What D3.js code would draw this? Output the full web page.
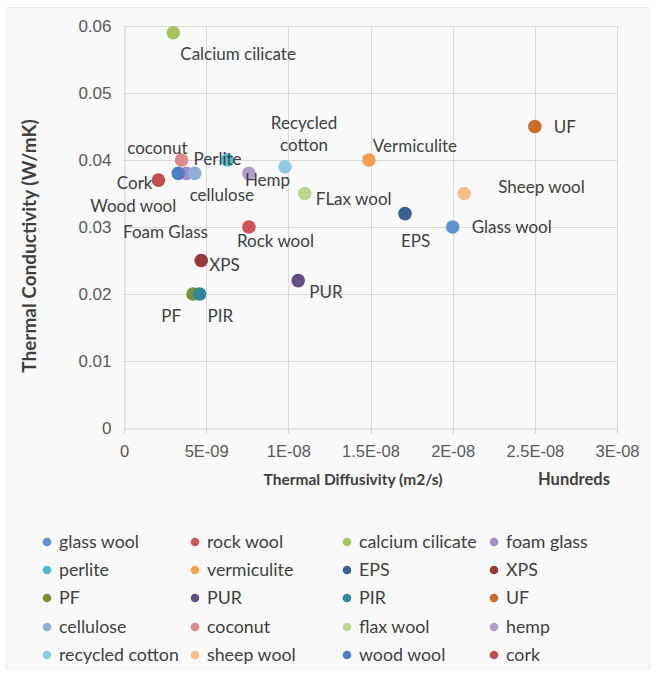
<!DOCTYPE html>
<html>
<head>
<meta charset="utf-8">
<script src="https://cdn.jsdelivr.net/npm/d3@7"></script>
<style>
  html, body { margin: 0; padding: 0; background: #ffffff; }
  svg { display: block; font-family: Lato, "Open Sans", "Liberation Sans", sans-serif; }
</style>
</head>
<body>
<svg id="chart" width="656" height="675"></svg>
<script>
// ---- data ----
const materials = ["glass wool","rock wool","calcium cilicate","foam glass","perlite","vermiculite","EPS","XPS","PF","PUR","PIR","UF","cellulose","coconut","flax wool","hemp","recycled cotton","sheep wool","wood wool","cork"];
const diffusivity = [2.0e-8, 7.6e-9, 3.0e-9, 3.8e-9, 6.3e-9, 1.49e-8, 1.71e-8, 4.7e-9, 4.2e-9, 1.06e-8, 4.6e-9, 2.5e-8, 4.3e-9, 3.5e-9, 1.1e-8, 7.6e-9, 9.8e-9, 2.07e-8, 3.3e-9, 2.1e-9];
const conductivity = [0.030, 0.030, 0.059, 0.038, 0.040, 0.040, 0.032, 0.025, 0.020, 0.022, 0.020, 0.045, 0.038, 0.040, 0.035, 0.038, 0.039, 0.035, 0.038, 0.037];
const pointLabels = ["Glass wool","Rock wool","Calcium cilicate","Foam Glass","Perlite","Vermiculite","EPS","XPS","PF","PUR","PIR","UF","cellulose","coconut","FLax wool","Hemp","Recycled\ncotton","Sheep wool","Wood wool","Cork"];
const colors = ["#5f93cf","#cd5654","#a3c563","#a58cc9","#4dbdd3","#f5a04f","#3c5f8d","#953a38","#789239","#654e85","#31869b","#c96d28","#8db0dc","#dc8b8a","#bcd68d","#b09dcc","#8ccde0","#f9bd8a","#4f80be","#c14f4b"];
const xTicks = [0, 5e-9, 1e-8, 1.5e-8, 2e-8, 2.5e-8, 3e-8];
const xTickLabels = ["0","5E-09","1E-08","1.5E-08","2E-08","2.5E-08","3E-08"];
const yTicks = [0, 0.01, 0.02, 0.03, 0.04, 0.05, 0.06];
const yTickLabels = ["0","0.01","0.02","0.03","0.04","0.05","0.06"];

// ---- label layout (offset from point and text anchor) ----
const labelLayout = {
  "glass wool": [19, 6, "start"],
  "rock wool": [-12, 20, "start"],
  "calcium cilicate": [7, 27, "start"],
  "foam glass": [-21, 65, "middle"],
  "perlite": [-34, 5, "start"],
  "vermiculite": [4, -8, "start"],
  "EPS": [-4, 33, "start"],
  "XPS": [8, 10, "start"],
  "PF": [-12, 28, "end"],
  "PUR": [11, 17, "start"],
  "PIR": [8, 28, "start"],
  "UF": [19, 6, "start"],
  "cellulose": [-5, 28, "start"],
  "coconut": [6, -6, "end"],
  "flax wool": [11, 11, "start"],
  "hemp": [-4, 13, "start"],
  "recycled cotton": [19, -38, "middle"],
  "sheep wool": [34, -1, "start"],
  "wood wool": [-2, 39, "end"],
  "cork": [-6, 9, "end"]
};

const svg = d3.select("#chart");

// chart frame
svg.append("rect").attr("x", 6.5).attr("y", 7.5).attr("width", 643).attr("height", 661)
  .attr("fill", "#f9f9f9").attr("stroke", "#ebebeb");

const x = d3.scaleLinear().domain([0, 3e-8]).range([124, 617]);
const y = d3.scaleLinear().domain([0, 0.06]).range([428, 26]);

// gridlines
const grid = svg.append("g");
grid.selectAll("line.h").data(yTicks.slice(1)).join("line")
  .attr("x1", x(0)).attr("x2", x(3e-8))
  .attr("y1", d => Math.round(y(d)) + 0.5).attr("y2", d => Math.round(y(d)) + 0.5)
  .attr("stroke", "#d9d9d9");
grid.selectAll("line.v").data(xTicks.slice(1)).join("line")
  .attr("x1", d => Math.round(x(d)) + 0.5).attr("x2", d => Math.round(x(d)) + 0.5)
  .attr("y1", y(0.06)).attr("y2", y(0) + 5)
  .attr("stroke", "#d9d9d9");

// axes
const xAxis = d3.axisBottom(x).tickValues(xTicks).tickFormat((d, i) => xTickLabels[i]).tickSize(5).tickPadding(12);
const gx = svg.append("g").attr("transform", `translate(0,${Math.round(y(0)) + 0.5})`).call(xAxis);
gx.select(".domain").attr("stroke", "#d0d0d0");
gx.selectAll(".tick line").attr("stroke", "#d0d0d0");
gx.selectAll("text").attr("fill", "#595959").attr("font-size", 16.5);

const yAxis = d3.axisLeft(y).tickValues(yTicks).tickFormat((d, i) => yTickLabels[i]).tickSize(0).tickPadding(13);
const gy = svg.append("g").attr("transform", `translate(${Math.round(x(0)) + 0.5},0)`).call(yAxis);
gy.select(".domain").attr("stroke", "#d0d0d0");
gy.selectAll("text").attr("fill", "#595959").attr("font-size", 17);

// axis titles
svg.append("text").attr("x", 353).attr("y", 485).attr("text-anchor", "middle")
  .attr("font-size", 15.5).attr("font-weight", "bold").attr("fill", "#404040")
  .text("Thermal Diffusivity (m2/s)");
svg.append("text").attr("x", 574).attr("y", 485).attr("text-anchor", "middle")
  .attr("font-size", 16.5).attr("font-weight", "bold").attr("fill", "#404040")
  .text("Hundreds");
const yTitle = svg.append("text").attr("transform", "translate(36,246) rotate(-90)").attr("text-anchor", "middle")
  .attr("font-size", 15.5).attr("font-weight", "bold").attr("fill", "#404040")
  .text("Thermal Conductivity (W/mK)");
// fit y title to the span it covers in the reference (~260px)
const yLen = yTitle.node().getComputedTextLength();
if (yLen > 0) yTitle.attr("font-size", Math.min(19, 15.5 * 258 / yLen));

// points
const pts = materials.map((m, i) => ({ name: m, x: diffusivity[i], y: conductivity[i], c: colors[i], label: pointLabels[i] }));
svg.append("g").selectAll("circle").data(pts).join("circle")
  .attr("cx", d => x(d.x)).attr("cy", d => y(d.y)).attr("r", 6.8)
  .attr("fill", d => d.c);

// point labels
const lg = svg.append("g").attr("font-size", 17).attr("fill", "#404040");
pts.forEach(d => {
  const [dx, dy, anchor] = labelLayout[d.name];
  const t = lg.append("text").attr("text-anchor", anchor)
    .attr("x", x(d.x) + dx).attr("y", y(d.y) + dy);
  d.label.split("\n").forEach((ln, k) => {
    t.append("tspan").attr("x", x(d.x) + dx).attr("dy", k === 0 ? 0 : 22).text(ln);
  });
});

// legend
const legCols = [47, 195, 347, 494];
const legRows = [542, 570, 598, 627, 655];
const legend = svg.append("g").attr("font-size", 17.8).attr("fill", "#404040");
pts.forEach((d, i) => {
  const cx = legCols[i % 4], cy = legRows[Math.floor(i / 4)];
  legend.append("circle").attr("cx", cx).attr("cy", cy).attr("r", 4.3).attr("fill", d.c);
  legend.append("text").attr("x", cx + 12).attr("y", cy + 6).text(d.name);
});
</script>
</body>
</html>
